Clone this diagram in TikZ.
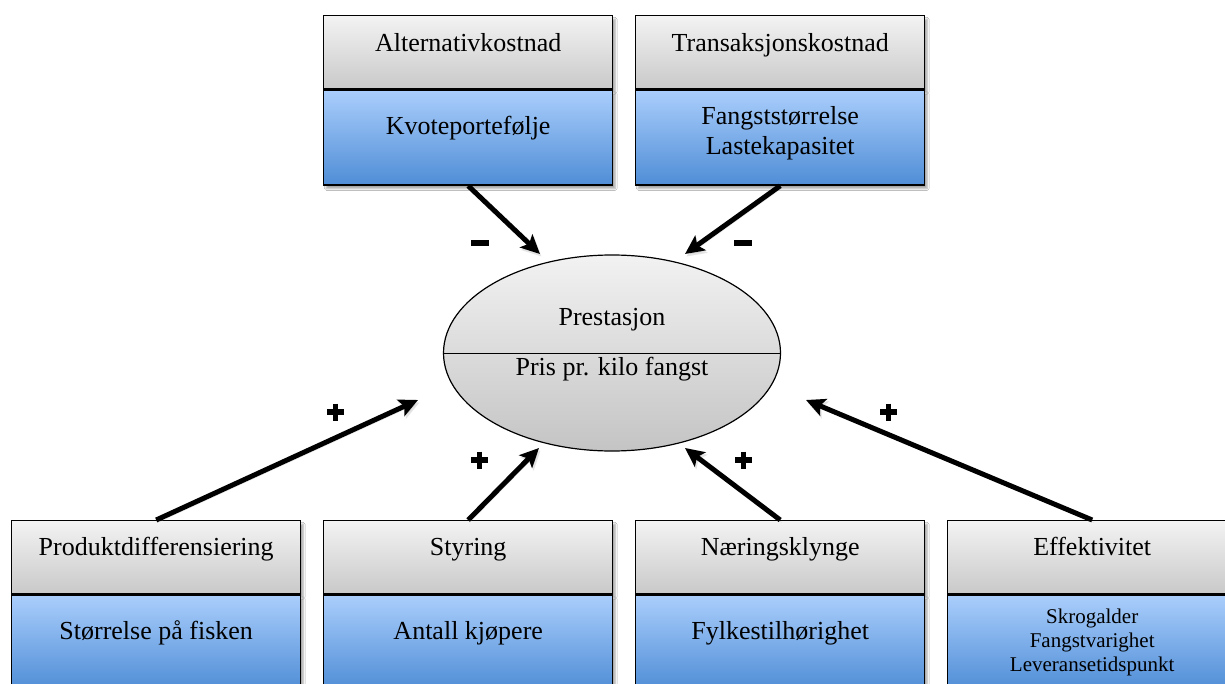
\documentclass[tikz,border=0pt]{standalone}
\usepackage{fontspec}
\setmainfont{Liberation Serif}
\usetikzlibrary{arrows.meta,calc,shapes.geometric,shadows.blur}

\definecolor{hdrtop}{RGB}{243,243,243}
\definecolor{hdrbot}{RGB}{201,201,201}
\definecolor{bodytop}{RGB}{170,206,252}
\definecolor{bodybot}{RGB}{79,141,214}
\definecolor{elltop}{RGB}{242,242,242}
\definecolor{ellbot}{RGB}{196,196,196}

\begin{document}
\begin{tikzpicture}[x=1pt,y=-1pt,
  boxshadow/.style={blur shadow={shadow xshift=2.5pt,shadow yshift=-3.5pt,
      shadow blur steps=6,shadow opacity=35}},
  hdr/.style={draw=black,line width=1.4pt,top color=hdrtop,bottom color=hdrbot,
      minimum width=289pt,minimum height=73pt,inner sep=0pt,anchor=north west,boxshadow},
  bodybox/.style={hdr,top color=bodytop,bottom color=bodybot,minimum height=95pt},
  lbl/.style={font=\fontsize{26}{31}\selectfont,inner sep=0pt,anchor=base},
  multilbl/.style={font=\fontsize{26}{30}\selectfont,inner sep=0pt,align=center},
  smalltxt/.style={font=\fontsize{21}{24}\selectfont,inner sep=0pt,align=center},
  arr/.style={line width=5pt,-{Stealth[length=19pt,width=18pt,inset=4pt]},
      preaction={draw=black!35,opacity=0.3,transform canvas={shift={(1.5pt,-2.5pt)}}}},
  signmark/.style={line width=5.5pt}
]
\useasboundingbox (0,0) rectangle (1225,684);
\fill[white] (0,0) rectangle (1225,684);
\clip (0,0) rectangle (1225,684);

% upper boxes
\node[hdr] (alth) at (323,15) {};
\node[bodybox] (altb) at (alth.south west) {};
\node[lbl] (altht) at ($(alth.north)+(0,37)$) {Alternativkostnad};
\node[lbl] (altbt) at ($(altb.north)+(0,45)$) {Kvoteportefølje};

\node[hdr] (trah) at (635,15) {};
\node[bodybox] (trab) at (trah.south west) {};
\node[lbl] (traht) at ($(trah.north)+(0,37)$) {Transaksjonskostnad};
\node[multilbl] (trabt) at ($(trab.north)+(0,44)$) {Fangststørrelse\\Lastekapasitet};

% lower boxes
\node[hdr] (prodh) at (11,520) {};
\node[bodybox] (prodb) at (prodh.south west) {};
\node[lbl] (prodht) at ($(prodh.north)+(0,35)$) {Produktdifferensiering};
\node[lbl] (prodbt) at ($(prodb.north)+(0,45)$) {Størrelse på fisken};

\node[hdr] (styh) at (323,520) {};
\node[bodybox] (styb) at (styh.south west) {};
\node[lbl] (styht) at ($(styh.north)+(0,35)$) {Styring};
\node[lbl] (stybt) at ($(styb.north)+(0,45)$) {Antall kjøpere};

\node[hdr] (naerh) at (635,520) {};
\node[bodybox] (naerb) at (naerh.south west) {};
\node[lbl] (naerht) at ($(naerh.north)+(0,35)$) {Næringsklynge};
\node[lbl] (naerbt) at ($(naerb.north)+(0,45)$) {Fylkestilhørighet};

\node[hdr] (effh) at (947,520) {};
\node[bodybox] (effb) at (effh.south west) {};
\node[lbl] (effht) at ($(effh.north)+(0,35)$) {Effektivitet};
\node[smalltxt] (effbt) at ($(effb.north)+(0,48)$) {Skrogalder\\Fangstvarighet\\Leveransetidspunkt};

% central ellipse
\node[ellipse,draw=black,line width=1.2pt,top color=elltop,bottom color=ellbot,
      minimum width=337pt,minimum height=196pt,inner sep=0pt] (pres) at (612,353) {};
\draw[line width=1pt] (pres.west) -- (pres.east);
\node[lbl] (prest) at (612,325) {Prestasjon};
\node[lbl] (prist) at (612,375) {Pris pr. kilo fangst};

% arrow tips near the ellipse
\coordinate (tipA) at (540,254);
\coordinate (tipB) at (685,254);
\coordinate (tipC) at (418,400);
\coordinate (tipD) at (539,448);
\coordinate (tipE) at (685,448);
\coordinate (tipF) at (806,400);

\draw[arr] (altb.south) -- (tipA);
\draw[arr] (trab.south) -- (tipB);
\draw[arr] (prodh.north) -- (tipC);
\draw[arr] (styh.north) -- (tipD);
\draw[arr] (naerh.north) -- (tipE);
\draw[arr] (effh.north) -- (tipF);

% signs
\draw[signmark] (471,243) -- (489,243);
\draw[signmark] (734,243) -- (752,243);
\draw[signmark] (327,412) -- (344,412) (335.5,403.5) -- (335.5,420.5);
\draw[signmark] (471,460) -- (488,460) (479.5,451.5) -- (479.5,468.5);
\draw[signmark] (735,460) -- (752,460) (743.5,451.5) -- (743.5,468.5);
\draw[signmark] (880,412) -- (897,412) (888.5,403.5) -- (888.5,420.5);
\end{tikzpicture}
\end{document}
